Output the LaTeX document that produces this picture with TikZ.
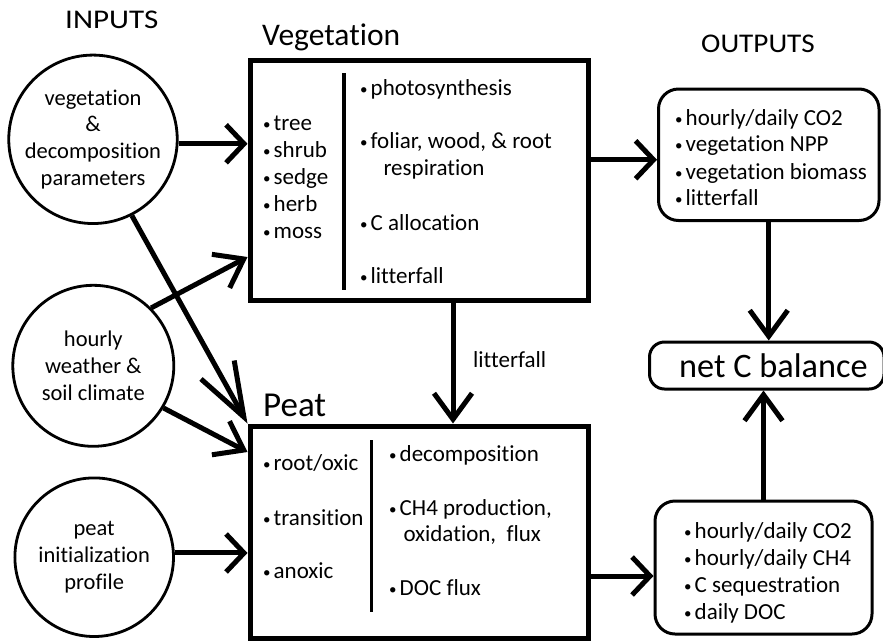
\documentclass[tikz,border=0pt]{standalone}
\usepackage{fontspec}
\setmainfont{Carlito}[Ligatures={NoCommon,NoContextual}]
\usetikzlibrary{arrows.meta}
\newcommand\bul{\makebox[10.5pt][l]{\raisebox{1pt}{\fontsize{15}{15}\selectfont •}}}
\begin{document}
\begin{tikzpicture}[x=1pt,y=-1pt,
  body/.style={font=\fontsize{23}{26.7}\selectfont, inner sep=0pt, anchor=base west},
  head/.style={font=\fontsize{27}{30}\selectfont, inner sep=0pt, anchor=base west},
  title/.style={font=\fontsize{31.5}{34}\selectfont, inner sep=0pt, anchor=base west},
  bigbox/.style={draw, line width=5pt, inner sep=0pt},
  rbox/.style={draw, line width=3pt, rounded corners=20pt, inner sep=0pt},
  circ/.style={draw, circle, line width=2.8pt, inner sep=0pt, align=center,
    font=\fontsize{22.5}{26.7}\selectfont},
  divider/.style={line width=3.5pt},
  shaft/.style={line width=5pt},
  tipS/.style={-{Straight Barb[length=18pt,width=38pt]}},
  tipM/.style={-{Straight Barb[length=26pt,width=38pt]}},
  tipL/.style={-{Straight Barb[length=54pt,width=38pt]}}
]
\useasboundingbox (0,0) rectangle (883,641);

% headings
\node[head] (inputs) at (65,28) {\scalebox{1.15}[1]{INPUTS}};
\node[head] (outputs) at (701,52) {\scalebox{1.08}[1]{OUTPUTS}};
\node[title] (vegtitle) at (262,45) {Vegetation};
\node[title, font=\fontsize{35}{38}\selectfont] (peattitle) at (263,416) {Peat};

% input circles
\node[circ, minimum size=168] (in1) at (93,139.3) {vegetation\\\&\\decomposition\\parameters};
\node[circ, minimum size=161] (in2) at (93.3,365.8) {hourly\\weather \&\\soil climate};
\node[circ, minimum size=158.6] (in3) at (94.2,557.2) {peat\\initialization\\profile};

% main boxes
\node[bigbox, minimum width=338, minimum height=240] (veg) at (419,180) {};
\node[bigbox, minimum width=338, minimum height=212] (peat) at (419,532) {};

% output boxes
\node[rbox, minimum width=220.5, minimum height=131.5] (out1) at (768.75,154.75) {};
\node[rbox, minimum width=217, minimum height=133] (out2) at (763.5,567.5) {};
\node[rbox, rounded corners=15pt, minimum width=234.5, minimum height=47] (net) at (766.75,365.5) {};
\node[title, font=\fontsize{34.3}{36}\selectfont] (netlabel) at (679,377) {net C balance};

% vegetation contents
\node[body] (vt1) at (263,130) {\bul tree};
\node[body] (vt2) at (263,157.3) {\bul shrub};
\node[body] (vt3) at (263,184.3) {\bul sedge};
\node[body] (vt4) at (263,211.7) {\bul herb};
\node[body] (vt5) at (263,238.3) {\bul moss};
\coordinate (vd1) at (344,73);
\coordinate (vd2) at (344,290);
\draw[divider] (vd1) -- (vd2);
\node[body] (vp1) at (360,95) {\bul photosynthesis};
\node[body] (vp2) at (360,148.3) {\bul foliar, wood, \& root};
\node[body] (vp2b) at (383.3,175.7) {respiration};
\node[body] (vp3) at (360,230) {\bul C allocation};
\node[body] (vp4) at (360,283.3) {\bul litterfall};

% peat contents
\node[body] (pl1) at (263,470) {\bul root/oxic};
\node[body] (pl2) at (263,525) {\bul transition};
\node[body] (pl3) at (263,578.3) {\bul anoxic};
\coordinate (pd1) at (371.7,440);
\coordinate (pd2) at (371.7,612);
\draw[divider] (pd1) -- (pd2);
\node[body] (pp1) at (389,461.7) {\bul decomposition};
\node[body] (pp2) at (389,515) {\bul CH4 production,};
\node[body] (pp2b) at (403.3,541.7) {oxidation,\ \ flux};
\node[body] (pp3) at (389,595) {\bul DOC flux};

% output contents
\node[body] (o1) at (675,125) {\bul hourly/daily CO2};
\node[body] (o2) at (675,151.7) {\bul vegetation NPP};
\node[body] (o3) at (675,179) {\bul vegetation biomass};
\node[body] (o4) at (675,205.7) {\bul litterfall};
\node[body] (q1) at (684,538.3) {\bul hourly/daily CO2};
\node[body] (q2) at (684,565) {\bul hourly/daily CH4};
\node[body] (q3) at (684,592.3) {\bul C sequestration};
\node[body] (q4) at (684,619) {\bul daily DOC};

% litterfall label
\node[body] (litlabel) at (473,367) {litterfall};

% connectors
\draw[shaft, tipS] (in1.-3) -- (in1.-3 -| veg.west);
\draw[shaft, tipM] (in2.45) -- ([yshift=-77pt]veg.west);
\draw[shaft, tipL] (in1.-63) -- (peat.north west);
\draw[shaft, tipM] (in2.-31) -- ([yshift=80pt]peat.west);
\draw[shaft, tipS] (in3.3) -- (in3.3 -| peat.west);
\draw[shaft, tipS] ([yshift=-5pt]out1.west -| veg.east) -- ([yshift=-5pt]out1.west);
\draw[shaft, tipS] ([yshift=-8.5pt]out2.west -| peat.east) -- ([yshift=-8.5pt]out2.west);
\draw[shaft, tipM] ([xshift=34pt]veg.south) -- ([xshift=34pt]veg.south |- peat.north);
\draw[shaft, tipM] (out1.south) -- (out1.south |- net.north);
\draw[shaft, tipM] (out2.north) -- (out2.north |- net.south);
\end{tikzpicture}
\end{document}
